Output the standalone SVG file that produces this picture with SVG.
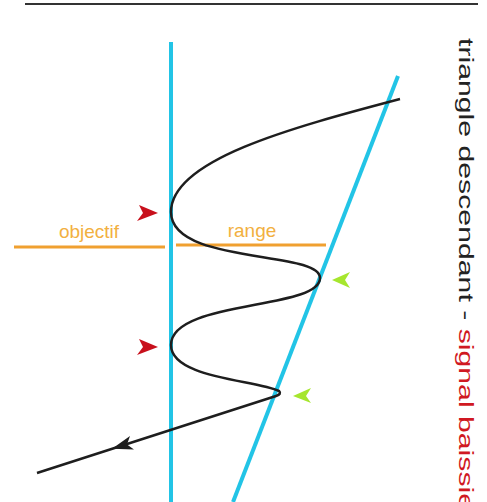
<svg xmlns="http://www.w3.org/2000/svg" width="487" height="502" viewBox="0 0 487 502">
<style>
.cyan{stroke:#22c4e6;stroke-width:4;fill:none}
.orange{stroke:#f0a030;stroke-width:3}
.olabel{font-family:"Liberation Sans",Arial,sans-serif;font-size:19px;fill:#f2b040}
.red{fill:#c8101c}
.green{fill:#a6e62e}
.curve{stroke:#1e1e1e;stroke-width:2.5;fill:none}
</style>
<rect width="487" height="502" fill="#ffffff"/>
<line x1="25" y1="4" x2="478" y2="4" stroke="#333" stroke-width="2"/>
<g id="support">
<line class="cyan" x1="171" y1="42" x2="171" y2="502"/>
</g>
<g id="resistance">
<line class="cyan" x1="398" y1="76" x2="233" y2="502"/>
</g>
<g id="objectif">
<line class="orange" x1="14" y1="247" x2="165" y2="247"/>
<text class="olabel" x="89" y="238" text-anchor="middle">objectif</text>
</g>
<g id="range">
<line class="orange" x1="176" y1="245" x2="326" y2="245"/>
<text class="olabel" x="252" y="237" text-anchor="middle">range</text>
</g>
<g id="connectors">
<path class="curve" d="M400,99 C290,128 171,160 171,212 C171,265 320,250 320,278 C320,310 171,300 171,345 C171,378 255,380 279,391 Q282,394 276,396 L37,473"/>
<polygon fill="#1e1e1e" points="112,448.8 134,449.5 127,444.5 130,436"/>
</g>
<g id="markers">
<polygon class="red" points="139,205 158,213 137,221 143,213"/>
<polygon class="red" points="139,339 158,347 137,355 143,347"/>
<polygon class="green" points="332,280 350,272 345,280 350,288"/>
<polygon class="green" points="293,396 311,388 306,396 311,403"/>
</g>
<g id="title">
<text transform="translate(459,38) rotate(90) scale(1.44,1)" font-family="'Liberation Sans',Arial,sans-serif" font-size="21" fill="#222"><tspan>triangle descendant - </tspan><tspan fill="#d01822">signal baissier</tspan></text>
</g>
</svg>
